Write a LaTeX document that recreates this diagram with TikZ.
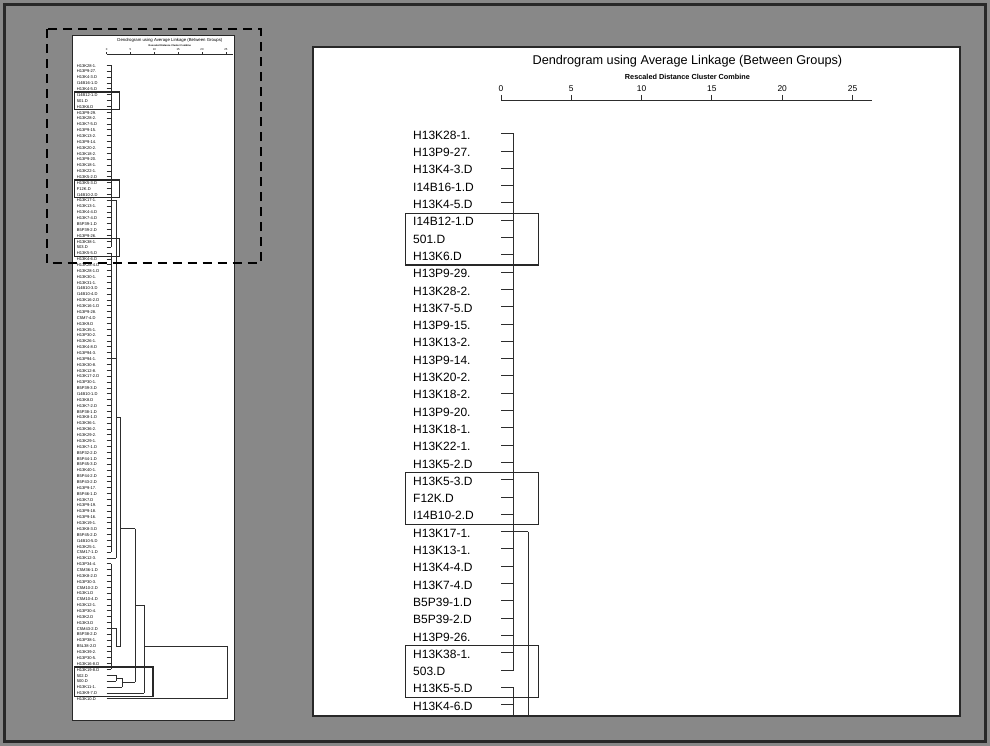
\documentclass[tikz,border=0pt]{standalone}
\usepackage{fontspec}
\setmainfont{Liberation Sans}
\definecolor{bg}{RGB}{136,136,136}
\definecolor{ink}{RGB}{45,45,45}
\definecolor{framec}{RGB}{40,40,40}
\newcommand{\dendro}[4]{%
  \node[font=\fontsize{12.7}{15}\selectfont, inner sep=0pt] (#1title) at (13.26,-4.17) {Dendrogram using Average Linkage (Between Groups)};
  \node[font=\bfseries\fontsize{7.3}{9}\selectfont, inner sep=0pt] (#1sub) at (13.26,-3.27) {Rescaled Distance Cluster Combine};
  \foreach \n in {0,5,...,25} {
    \node[font=\fontsize{8.4}{10}\selectfont, inner sep=0pt] (#1n\n) at (\n,-2.6) {\n};
    \draw[ink, line width=#2] (\n,-2.24) -- (\n,-1.91);
  }
  \draw[ink, line width=#2] (0,-1.91) -- (26.4,-1.91);
  \foreach \lab [count=\i] in {H13K28-1.,H13P9-27.,H13K4-3.D,I14B16-1.D,H13K4-5.D,I14B12-1.D,501.D,H13K6.D,H13P9-29.,H13K28-2.,H13K7-5.D,H13P9-15.,H13K13-2.,H13P9-14.,H13K20-2.,H13K18-2.,H13P9-20.,H13K18-1.,H13K22-1.,H13K5-2.D,H13K5-3.D,F12K.D,I14B10-2.D,H13K17-1.,H13K13-1.,H13K4-4.D,H13K7-4.D,B5P39-1.D,B5P39-2.D,H13P9-26.,H13K38-1.,503.D,H13K5-5.D,H13K4-6.D,H13K28-4.D,H13K28-1.D,H13K30-1.,H13K31-1.,I14B10-3.D,I14B10-4.D,H13K16-2.D,H13K16-1.D,H13P9-28.,C5M7-4.D,H13K9.D,H13K35-1.,H13P30-2.,H13K26-1.,H13K4-8.D,H13P94-3.,H13P94-1.,H13K30-8.,H13K12-8.,H13K17-2.D,H13P30-1.,B5P39-3.D,I14B10-1.D,H13K8.D,H13K7-2.D,B5P38-1.D,H13K8-1.D,H13K36-1.,H13K36-2.,H13K29-2.,H13K29-1.,H13K7-1.D,B5P32-2.D,B5P44-1.D,B5P45-3.D,H13K40-1.,B5P44-2.D,B5P43-2.D,H13P9-17.,B5P46-1.D,H13K7.D,H13P9-19.,H13P9-18.,H13P9-16.,H13K19-1.,H13K8-3.D,B5P45-2.D,I14B10-5.D,H13K25-1.,C5M17-1.D,H13K12-3.,H13P34-4.,C5M36-1.D,H13K8-2.D,H13P30-3.,C5M10-2.D,H13K1.D,C5M10-4.D,H13K12-1.,H13P30-4.,H13K2.D,H13K3.D,C5M43-2.D,B5P38-2.D,H13P38-1.,B5L38-2.D,H13K39-2.,H13P30-5.,H13K16-8.D,H13K19-8.D,502.D,500.D,H13K11-1.,H13K9-7.D,H13K10.D} {
    \ifnum\i<#4\relax
      \node[lbl] (#1l\i) at (-6.26,\i-0.913) {\lab};
    \fi
  }
  \begin{scope}[ink, line width=#2]
    \foreach \i in {0,...,83,85,86,...,103} {\draw (0,\i) -- (0.92,\i);}
    \draw (0,84) -- (1.92,84);
    \draw (0,104) -- (2.0,104) (0,105) -- (2.0,105);
    \draw (0,106) -- (3.2,106);
    \draw (0,107) -- (7.87,107);
    \draw (0,108) -- (25.2,108);
    \draw (0.92,0) -- (0.92,31);
    \draw (0.92,32) -- (0.92,83);
    \draw (0.92,85) -- (0.92,103);
    \draw (0.92,23) -- (1.92,23);
    \draw (0.92,50) -- (1.92,50);
    \draw (1.92,23) -- (1.92,84);
    \draw (1.92,60) -- (2.92,60);
    \draw (2.92,60) -- (2.92,99);
    \draw (0.92,96) -- (1.92,96) -- (1.92,99) -- (2.92,99);
    \draw (2.0,104) -- (2.0,105);
    \draw (2.0,104.5) -- (3.2,104.5);
    \draw (3.2,104.5) -- (3.2,106);
    \draw (3.2,105.2) -- (5.97,105.2);
    \draw (2.92,79) -- (5.97,79);
    \draw (5.97,79) -- (5.97,105.2);
    \draw (5.97,92) -- (7.87,92);
    \draw (7.87,92) -- (7.87,107);
    \draw (7.87,99) -- (25.2,99);
    \draw (25.2,99) -- (25.2,108);
  \end{scope}
  \begin{scope}[framec, line width=#3]
    \draw (-6.8,4.6) rectangle (2.65,7.6);
    \draw (-6.8,19.6) rectangle (2.65,22.6);
    \draw (-6.8,29.6) rectangle (2.65,32.6);
  \end{scope}
}
\begin{document}
\begin{tikzpicture}[x=1pt,y=-1pt,
  lbl/.style={anchor=west, inner sep=0pt, font=\fontsize{12}{14}\selectfont, text=black},
  panel/.style={fill=white, draw=framec},
  dashbox/.style={draw=black, line width=2pt, dash pattern=on 9pt off 6pt}]
  \useasboundingbox (0,0) rectangle (990,746);
  \fill[bg] (0,0) rectangle (990,746);
  \draw[framec, line width=3pt] (4.5,4.5) rectangle (985.5,741.5);
  % left overview panel
  \draw[panel, line width=1pt] (72.3,35.7) rectangle (234,720);
  \begin{scope}[xshift=106.7pt, yshift=-65.2pt, scale=0.339, transform shape, x=14.06pt, y=-17.3pt]
    \dendro{a}{0.45pt}{1.4pt}{110}
    \draw[framec, line width=1.4pt] (-6.8,102.6) rectangle (9.71,107.6);
  \end{scope}
  \draw[dashbox] (46.7,29.3) rectangle (260.5,263.3);
  % right zoomed panel
  \fill[white] (313,47) rectangle (960,716);
  \begin{scope}
    \clip (313,47) rectangle (960,716);
    \begin{scope}[xshift=501pt, yshift=-133.7pt, x=14.06pt, y=-17.3pt]
      \dendro{b}{0.9pt}{1.4pt}{35}
    \end{scope}
  \end{scope}
  \draw[framec, line width=1.3pt] (313,47) rectangle (960,716);
\end{tikzpicture}
\end{document}
